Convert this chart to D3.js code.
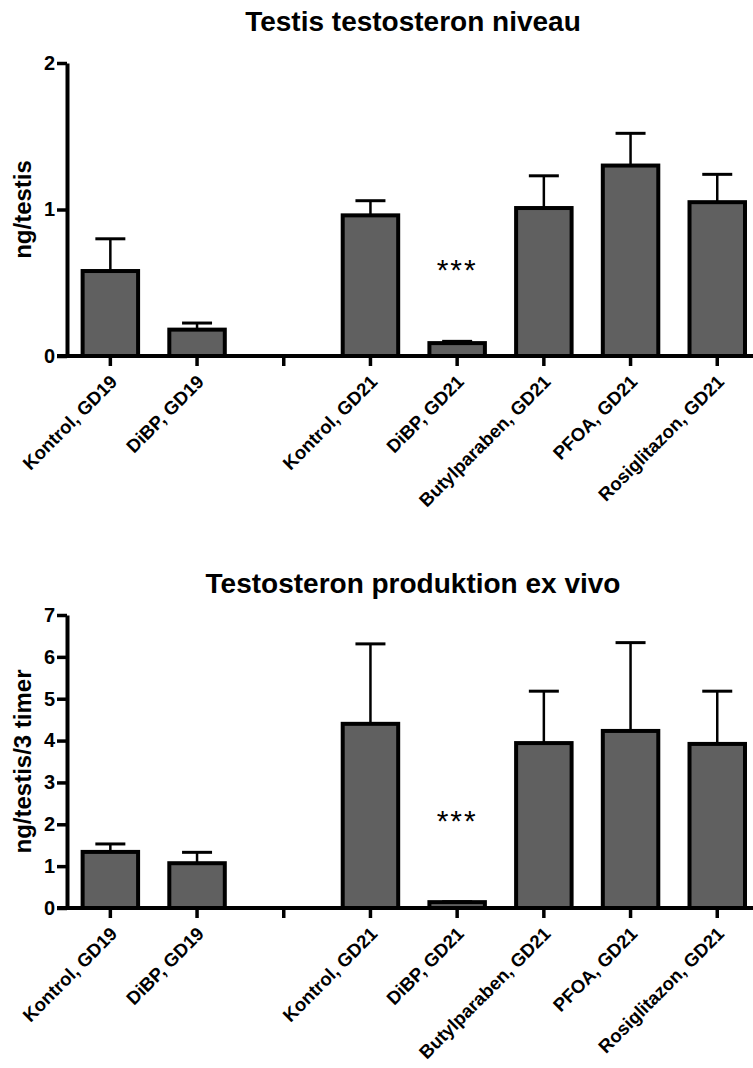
<!DOCTYPE html>
<html>
<head>
<meta charset="utf-8">
<script src="https://cdn.jsdelivr.net/npm/d3@7/dist/d3.min.js"></script>
<style>
  body { margin: 0; background: #fff; }
  svg { display: block; font-family: "Liberation Sans", Arial, sans-serif; }
</style>
</head>
<body>
<script>
  // groups (third slot is an empty gap in the original figure)
  var categories = ["Kontrol, GD19", "DiBP, GD19", "", "Kontrol, GD21", "DiBP, GD21",
    "Butylparaben, GD21", "PFOA, GD21", "Rosiglitazon, GD21"];

  // testis testosterone level, ng/testis (mean, SEM)
  var levelMean = [0.58, 0.18, 0, 0.96, 0.088, 1.01, 1.30, 1.05];
  var levelSem = [0.22, 0.045, 0, 0.10, 0.012, 0.22, 0.22, 0.19];
  var levelTicks = [0, 1, 2];

  // ex vivo testosterone production, ng/testis/3 timer (mean, SEM)
  var prodMean = [1.34, 1.07, 0, 4.40, 0.14, 3.94, 4.23, 3.92];
  var prodSem = [0.19, 0.26, 0, 1.91, 0.01, 1.24, 2.11, 1.26];
  var prodTicks = [0, 1, 2, 3, 4, 5, 6, 7];

  // significance marks: [category, y value where the stars sit]
  var levelStars = [["DiBP, GD21", 0.635]];
  var prodStars = [["DiBP, GD21", 2.25]];

  const width = 753, height = 1068;

  var svg = d3.select("body").append("svg")
    .attr("width", width)
    .attr("height", height);

  var x = d3.scaleBand()
    .domain(categories)
    .range([67, 67 + 8 * 86.7])
    .paddingInner(0.36)
    .paddingOuter(0.18);

  function drawChart(opt) {
    var g = svg.append("g");
    var y = d3.scaleLinear()
      .domain([0, d3.max(opt.ticks)])
      .range([opt.bottom, opt.top]);

    var rows = categories.map(function (c, i) {
      return { name: c, mean: opt.mean[i], sem: opt.sem[i] };
    });

    // title
    g.append("text")
      .attr("x", 413)
      .attr("y", opt.titleY)
      .attr("text-anchor", "middle")
      .style("font-size", "28px")
      .style("font-weight", "bold")
      .text(opt.title);

    // y label
    g.append("text")
      .attr("transform", "translate(31," + ((opt.top + opt.bottom) / 2) + ") rotate(-90)")
      .attr("text-anchor", "middle")
      .style("font-size", "24px")
      .style("font-weight", "bold")
      .text(opt.ylabel);

    // error bars (upper only)
    var eb = g.selectAll(".err")
      .data(rows.filter(function (d) { return d.sem > 0; }))
      .enter().append("g");
    eb.append("line")
      .attr("x1", function (d) { return x(d.name) + x.bandwidth() / 2; })
      .attr("x2", function (d) { return x(d.name) + x.bandwidth() / 2; })
      .attr("y1", function (d) { return y(d.mean); })
      .attr("y2", function (d) { return y(d.mean + d.sem); })
      .style("stroke", "#000")
      .style("stroke-width", 2.5);
    eb.append("line")
      .attr("x1", function (d) { return x(d.name) + x.bandwidth() / 2 - 15; })
      .attr("x2", function (d) { return x(d.name) + x.bandwidth() / 2 + 15; })
      .attr("y1", function (d) { return y(d.mean + d.sem); })
      .attr("y2", function (d) { return y(d.mean + d.sem); })
      .style("stroke", "#000")
      .style("stroke-width", 3);

    // bars
    g.selectAll(".bar")
      .data(rows.filter(function (d) { return d.mean > 0; }))
      .enter().append("rect")
      .attr("x", function (d) { return x(d.name); })
      .attr("width", x.bandwidth())
      .attr("y", function (d) { return y(d.mean); })
      .attr("height", function (d) { return opt.bottom - y(d.mean); })
      .style("fill", "#606060")
      .style("stroke", "#000")
      .style("stroke-width", 4);

    // stars
    g.selectAll(".star")
      .data(opt.stars)
      .enter().append("text")
      .attr("x", function (d) { return x(d[0]) + x.bandwidth() / 2; })
      .attr("y", function (d) { return y(d[1]); })
      .attr("dy", "0.57em")
      .attr("text-anchor", "middle")
      .style("font-size", "30px")
      .style("letter-spacing", "2px")
      .text("***");

    // axes
    var yAxis = g.append("g")
      .attr("transform", "translate(67,0)")
      .call(d3.axisLeft(y).tickValues(opt.ticks).tickFormat(d3.format("d"))
        .tickSize(10).tickSizeOuter(0).tickPadding(2));
    yAxis.select(".domain").style("stroke-width", 4);
    yAxis.selectAll(".tick line").style("stroke-width", 3.5);
    yAxis.selectAll("text")
      .style("font-size", "20px")
      .style("font-weight", "bold")
      .style("fill", "#000");

    var xAxis = g.append("g")
      .attr("transform", "translate(0," + opt.bottom + ")")
      .call(d3.axisBottom(x).tickSize(10).tickSizeOuter(0));
    xAxis.select(".domain")
      .attr("d", "M57,0H" + width)
      .style("stroke-width", 4);
    xAxis.selectAll(".tick line").style("stroke-width", 3.5);
    xAxis.selectAll("text")
      .attr("x", 0).attr("y", 0).attr("dy", 0)
      .attr("transform", "translate(8,27) rotate(-45)")
      .style("text-anchor", "end")
      .style("font-size", "18.5px")
      .style("font-weight", "bold")
      .style("fill", "#000");
  }

  drawChart({
    title: "Testis testosteron niveau", titleY: 31,
    ylabel: "ng/testis",
    top: 63, bottom: 356,
    mean: levelMean, sem: levelSem, ticks: levelTicks, stars: levelStars
  });

  drawChart({
    title: "Testosteron produktion ex vivo", titleY: 593,
    ylabel: "ng/testis/3 timer",
    top: 615, bottom: 908,
    mean: prodMean, sem: prodSem, ticks: prodTicks, stars: prodStars
  });
</script>
</body>
</html>
